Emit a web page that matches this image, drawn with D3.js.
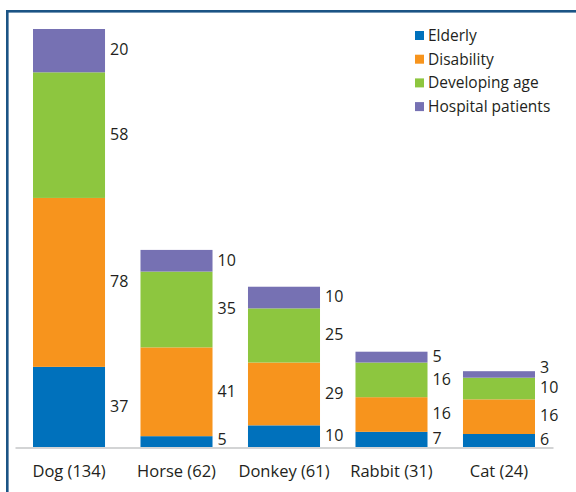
<!DOCTYPE html>
<html>
<head>
<meta charset="utf-8">
<script src="https://cdn.jsdelivr.net/npm/d3@7"></script>
<style>
  body { margin: 0; background: #fff; }
  svg { display: block; }
  text { font-family: "Open Sans", "Noto Sans", sans-serif; fill: #231f20; }
</style>
</head>
<body>
<div id="chart"></div>
<script>
const animals = ["Dog (134)", "Horse (62)", "Donkey (61)", "Rabbit (31)", "Cat (24)"];
const groups = ["Elderly", "Disability", "Developing age", "Hospital patients"];
const elderly = [37, 5, 10, 7, 6];
const disability = [78, 41, 29, 16, 16];
const developing = [58, 35, 25, 16, 10];
const hospital = [20, 10, 10, 5, 3];
const colors = ["#0071bc", "#f7941d", "#8dc63f", "#7671b3"];

const width = 576;
const height = 492;
const baseY = 447;
const topY = 29;

const rows = animals.map((a, i) => ({
  animal: a,
  "Elderly": elderly[i],
  "Disability": disability[i],
  "Developing age": developing[i],
  "Hospital patients": hospital[i],
}));

const stacked = d3.stack().keys(groups)(rows);
const maxTotal = d3.max(rows, (d) => groups.reduce((s, k) => s + d[k], 0));

const svg = d3
  .select("#chart")
  .append("svg")
  .attr("width", width)
  .attr("height", height);

// frame (top + left only visible)
svg
  .append("rect")
  .attr("x", 7.3)
  .attr("y", 11.3)
  .attr("width", 700)
  .attr("height", 700)
  .attr("fill", "none")
  .attr("stroke", "#1b5485")
  .attr("stroke-width", 2.6);

const x = d3
  .scaleBand()
  .domain(animals)
  .range([15, 553])
  .paddingInner(0.33)
  .paddingOuter(0.1675);

const y = d3.scaleLinear().domain([0, maxTotal]).range([baseY, topY]);

svg
  .append("g")
  .selectAll("g")
  .data(stacked)
  .enter()
  .append("g")
  .attr("fill", (d, i) => colors[i])
  .selectAll("rect")
  .data((d) => d)
  .enter()
  .append("rect")
  .attr("x", (d) => x(d.data.animal))
  .attr("width", x.bandwidth())
  .attr("y", (d) => y(d[1]))
  .attr("height", (d) => y(d[0]) - y(d[1]));

// axis
const axis = svg
  .append("g")
  .attr("transform", `translate(0,${baseY + 0.5})`)
  .call(d3.axisBottom(x).tickSize(0).tickSizeOuter(0).tickPadding(18));
axis.select(".domain").attr("stroke", "#a7a9ac").attr("stroke-width", 1.2);
axis
  .selectAll("text")
  .style("font-family", '"Open Sans", "Noto Sans", sans-serif')
  .style("font-size", "16.5px")
  .style("fill", "#231f20");

// value labels, stacked bottom-up with minimum spacing
const labels = [];
animals.forEach((a, i) => {
  let prev = Infinity;
  stacked.forEach((layer) => {
    const seg = layer[i];
    let cy = (y(seg[0]) + y(seg[1])) / 2 - 1;
    cy = Math.min(cy, baseY - 8, prev - 20);
    prev = cy;
    labels.push({ x: x(a) + x.bandwidth() + 5, y: cy, v: seg[1] - seg[0] });
  });
});

svg
  .append("g")
  .selectAll("text")
  .data(labels)
  .enter()
  .append("text")
  .attr("x", (d) => d.x)
  .attr("y", (d) => d.y)
  .attr("dy", "0.36em")
  .attr("font-size", 16)
  .text((d) => d.v);

// legend
const legend = svg
  .append("g")
  .selectAll("g")
  .data(groups)
  .enter()
  .append("g")
  .attr("transform", (d, i) => `translate(415,${35.5 + i * 23.7})`);

legend
  .append("rect")
  .attr("x", 0)
  .attr("y", -4.5)
  .attr("width", 9)
  .attr("height", 9)
  .attr("fill", (d, i) => colors[i]);

legend
  .append("text")
  .attr("x", 13)
  .attr("dy", "0.36em")
  .attr("font-size", 15.5)
  .text((d) => d);
</script>
</body>
</html>
